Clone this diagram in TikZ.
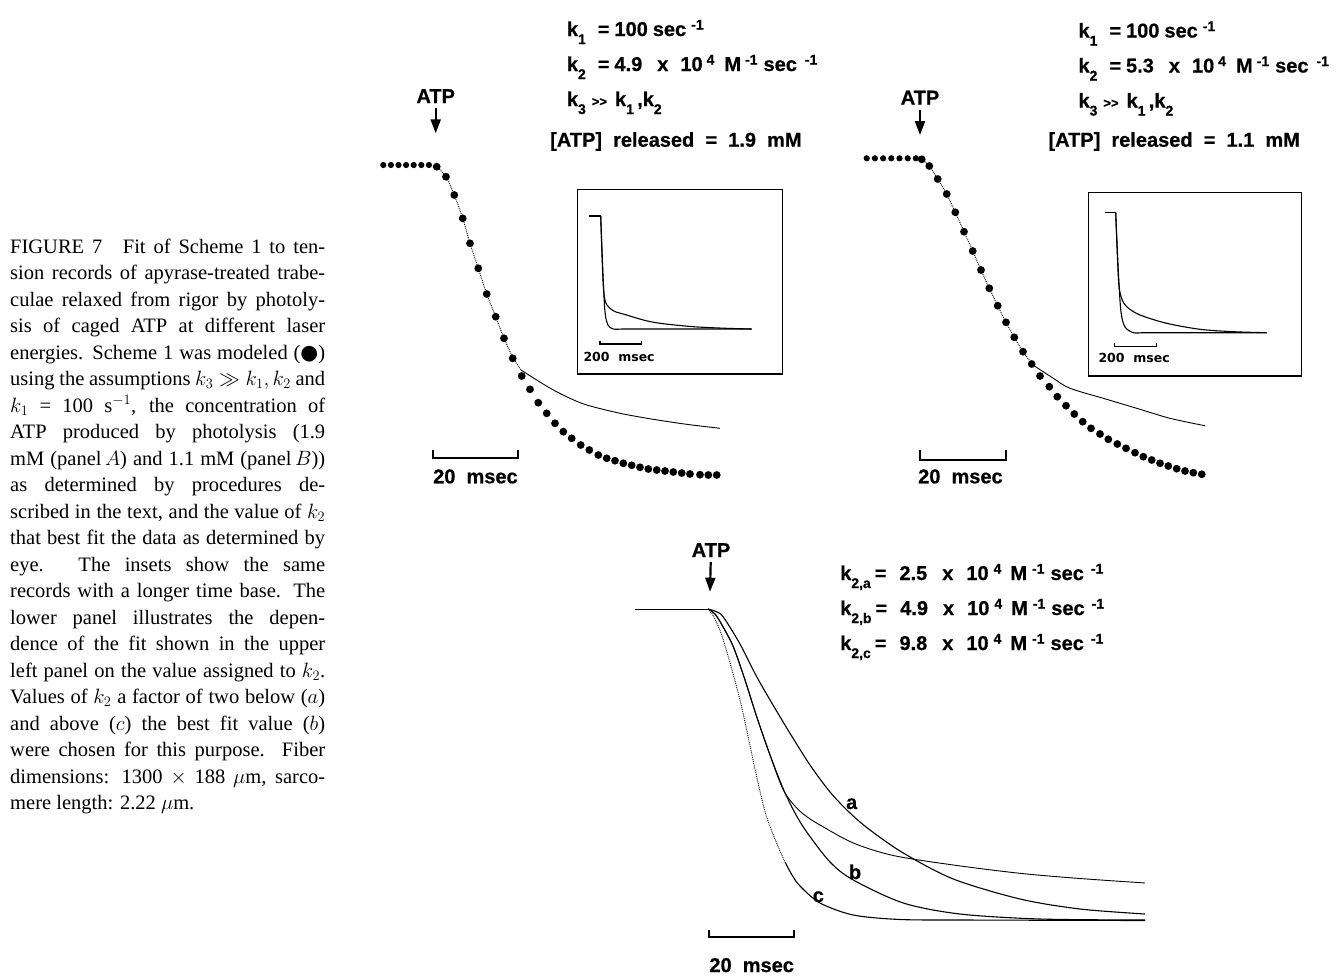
\documentclass[tikz,border=0pt]{standalone}
\usepackage{fontspec}
\setmainfont{Liberation Serif}
\newfontfamily\labfont{Liberation Sans}[BoldFeatures={FakeBold=0.6}]
\newfontfamily\widefont{DejaVu Sans}
\newfontfamily\symfont{DejaVu Sans}
\usepackage{tikz}
\usetikzlibrary{
    arrows.meta,
    positioning
}
% raised / lowered indices for the bold labels
\newcommand{\lsub}[1]{\raisebox{-8pt}{\fontsize{14}{14}\selectfont #1}}
\newcommand{\lsup}[1]{\raisebox{6.5pt}{\fontsize{14}{14}\selectfont #1}}
\newcommand{\ggsign}{{\fontsize{13}{13}\selectfont>>}}
\tikzset{
    lbl/.style={
        font=\labfont\bfseries\fontsize{20}{24}\selectfont,
        inner sep=0pt,
        anchor=base west
    },
    smalllbl/.style={
        font=\widefont\bfseries\fontsize{12.5}{15}\selectfont,
        inner sep=0pt,
        anchor=base west
    },
    capline/.style={
        font=\fontsize{20.5}{26.5}\selectfont,
        inner sep=0pt,
        anchor=base west
    },
    atparrow/.style={
        -{Triangle[width=10pt,length=14pt]},
        line width=2.2pt,
        shorten <=5pt
    },
    datatrace/.style={line width=0.9pt},
    rawtrace/.style={line width=0.9pt, densely dotted},
    fitcurve/.style={line width=1.1pt},
    scalebar/.style={line width=1.8pt},
    insetbox/.style={draw, line width=1.1pt}
}

\begin{document}
\begin{tikzpicture}[x=1pt, y=-1pt]
\useasboundingbox (0,0) rectangle (1344,975);

% caption
\foreach \txt [count=\i] in {
    {FIGURE 7\quad Fit of Scheme 1 to ten-},
    {sion records of apyrase-treated trabe-},
    {culae relaxed from rigor by photoly-},
    {sis of caged ATP at different laser},
    {energies. Scheme 1 was modeled ({\symfont ●})},
    {using the assumptions $k_3 \gg k_1, k_2$ and},
    {$k_1$ = 100 s$^{-1}$, the concentration of},
    {ATP produced by photolysis (1.9},
    {mM (panel\,$A$) and 1.1 mM (panel\,$B$))},
    {as determined by procedures de-},
    {scribed in the text, and the value of $k_2$},
    {that best fit the data as determined by},
    {eye. The insets show the same},
    {records with a longer time base. The},
    {lower panel illustrates the depen-},
    {dence of the fit shown in the upper},
    {left panel on the value assigned to $k_2$.},
    {Values of $k_2$ a factor of two below ($a$)},
    {and above ($c$) the best fit value ($b$)},
    {were chosen for this purpose. Fiber},
    {dimensions: 1300 $\times$ 188 $\mu$m, sarco-}}
    \node[capline] (cap\i) at (10, 226.8+26.5*\i) {\makebox[315pt][s]{\txt}};
\node[capline] (cap22) at (10, 809.8) {mere length: 2.22 $\mu$m.};

%% ---- panel A ----
\node[lbl, anchor=base] (atpA) at (435.7,103) {ATP};
\coordinate (atpAtip) at (435.7,133.3);
\draw[atparrow] (atpA) -- (atpAtip);

\node[lbl] (k1A) at (566.7,36) {k\lsub{1}\hspace{12pt}=\hspace{5pt}100\hspace{5pt}sec\hspace{5pt}\lsup{-1}};
\node[lbl] (k2A) at (566.7,71) {k\lsub{2}\hspace{12pt}=\hspace{5pt}4.9\hspace{15pt}x\hspace{12pt}10\hspace{4pt}\lsup{4}\hspace{10pt}M\hspace{4pt}\lsup{-1}\hspace{6pt}sec\hspace{8pt}\lsup{-1}};
\node[lbl] (k3A) at (566.7,106) {k\lsub{3}\hspace{6pt}\ggsign\hspace{8pt}k\lsub{1}\,,k\lsub{2}};
\node[lbl] (relA) at (550,146.7) {[ATP]\ \ released\ \ =\ \ 1.9\ \ mM};

% record
\draw[rawtrace] plot[smooth] coordinates {(436.7,166.7) (446,176.7) (454.3,195) (462.7,218.3) (470,243.3) (478.3,268.3) (486.7,294) (495.7,316.7) (504,338.3) (512.7,357) (521,370)};
\draw[datatrace] plot[smooth] coordinates {(521,370) (536.7,380) (553.3,390) (570,398.3) (586.7,405) (620,413.3) (653.3,419.3) (686.7,424.3) (720,428.3)};

% model points
\foreach \i in {0,...,6}
    \fill (383.3+7.6*\i,165) circle (3.1pt);
\foreach \p in {(436.7,166.7),(446,176.7),(454.3,195),(462.7,218.3),(470,243.3),(478.3,268.3),(486.7,294),(495.7,316.7),(504,338.3),(512.7,358.3),(521.7,376),(530,389.3),(538.3,402.7),(546.7,413.3),(555,423.3),(563.3,431.7),(571.7,438.3),(580.7,445),(589.3,450),(598.3,455),(606.7,458.3),(615,460.7),(623.3,463.3),(631.7,465.3),(640,467.3),(648.3,469),(656.7,470),(665,471),(673.3,472),(681.7,473),(690,474),(700,474.7),(708.3,475),(716.7,475)}
    \fill \p circle (3.9pt);

\draw[scalebar] (433.3,450) -- (433.3,458.3) -- (518.3,458.3) -- (518.3,450);
\node[lbl] (barA) at (433,483.3) {20\ \ msec};

% inset A
\draw[insetbox] (577.3,189.3) rectangle (782.7,374);
\draw[fitcurve] (589.3,216) -- (600.7,216);
\draw[fitcurve] plot[smooth] coordinates {(600.7,216) (603,275) (605,312) (608,325) (613.3,329) (622,329)} -- (751.7,329);
\draw[fitcurve] plot[smooth] coordinates {(600.7,216) (603,280) (605.5,302) (613.3,310.7) (626.7,315) (643.3,320) (660,323.3) (693.3,326.7) (726.7,328.3) (751.7,329)};
\draw[fitcurve] (600,340.7) -- (600,344) -- (641.7,344) -- (641.7,340.7);
\node[smalllbl] (insbarA) at (583.3,361.7) {200\ \ msec};

%% ---- panel B ----
\node[lbl, anchor=base] (atpB) at (920,104.5) {ATP};
\coordinate (atpBtip) at (920,135);
\draw[atparrow] (atpB) -- (atpBtip);

\node[lbl] (k1B) at (1078.3,37.5) {k\lsub{1}\hspace{12pt}=\hspace{5pt}100\hspace{5pt}sec\hspace{5pt}\lsup{-1}};
\node[lbl] (k2B) at (1078.3,72.5) {k\lsub{2}\hspace{12pt}=\hspace{5pt}5.3\hspace{15pt}x\hspace{12pt}10\hspace{4pt}\lsup{4}\hspace{10pt}M\hspace{4pt}\lsup{-1}\hspace{6pt}sec\hspace{8pt}\lsup{-1}};
\node[lbl] (k3B) at (1078.3,107.5) {k\lsub{3}\hspace{6pt}\ggsign\hspace{8pt}k\lsub{1}\,,k\lsub{2}};
\node[lbl] (relB) at (1048.3,146.7) {[ATP]\ \ released\ \ =\ \ 1.1\ \ mM};

% record
\draw[rawtrace] plot[smooth] coordinates {(921.7,159.3) (929.3,166) (937.7,179) (946.7,194) (955.3,212.3) (964,231.7) (972.7,251) (981,270) (989.3,288.3) (997.7,305.7) (1006,322.3) (1014.3,337.3) (1023,351.7) (1033,365)};
\draw[datatrace] plot[smooth] coordinates {(1033,365) (1053.3,378.3) (1070,388.3) (1103.3,398.3) (1136.7,408.3) (1170,418.3) (1205,425.7)};

% model points
\foreach \i in {0,...,6}
    \fill (866.7+8.2*\i,158.3) circle (3.1pt);
\foreach \p in {(921.7,159.3),(929.3,166),(937.7,179),(946.7,194),(955.3,212.3),(964,231.7),(972.7,251),(981,270),(989.3,288.3),(997.7,305.7),(1006,322.3),(1014.3,337.3),(1023,351.7),(1031.7,364),(1040,376),(1049.3,386.7),(1057.3,396.7),(1066,405.7),(1074.3,414),(1082.7,421.7),(1091,428.3),(1100,434),(1108.3,439.3),(1117.3,444),(1126,448.3),(1135,452.7),(1143.3,456.7),(1151.7,460),(1160,463.3),(1168.3,466),(1176.7,468.7),(1185,471),(1193.3,472.7),(1201.7,474.3)}
    \fill \p circle (3.9pt);

\draw[scalebar] (920,450) -- (920,460) -- (1005.7,460) -- (1005.7,450);
\node[lbl] (barB) at (918,483.3) {20\ \ msec};

% inset B
\draw[insetbox] (1088.3,192.7) rectangle (1301.7,376);
\draw[fitcurve] (1105,212.7) -- (1115.7,212.7);
\draw[fitcurve] plot[smooth] coordinates {(1115.7,212.7) (1118.5,275) (1121,312) (1125,327) (1133.3,332.7) (1142,332.7)} -- (1266.7,332.7);
\draw[fitcurve] plot[smooth] coordinates {(1115.7,212.7) (1118.5,280) (1121.5,298) (1127,307) (1140,315) (1166.7,323.3) (1200,329.3) (1233.3,331.7) (1266.7,332.7)};
\draw[fitcurve] (1114.3,343.3) -- (1114.3,346.7) -- (1156.7,346.7) -- (1156.7,343.3);
\node[smalllbl] (insbarB) at (1098.3,362.7) {200\ \ msec};

%% ---- lower panel: k2 dependence ----
\node[lbl, anchor=base] (atpC) at (711,557) {ATP};
\coordinate (atpCtip) at (710,591.7);
\draw[atparrow] (atpC) -- (atpCtip);

\node[lbl] (k2a) at (840,580) {k\lsub{2,a}\hspace{4pt}=\hspace{13pt}2.5\hspace{15pt}x\hspace{13pt}10\hspace{5pt}\lsup{4}\hspace{9pt}M\hspace{5pt}\lsup{-1}\hspace{6pt}sec\hspace{7pt}\lsup{-1}};
\node[lbl] (k2b) at (840,615) {k\lsub{2,b}\hspace{4pt}=\hspace{13pt}4.9\hspace{15pt}x\hspace{13pt}10\hspace{5pt}\lsup{4}\hspace{9pt}M\hspace{5pt}\lsup{-1}\hspace{6pt}sec\hspace{7pt}\lsup{-1}};
\node[lbl] (k2c) at (840,650) {k\lsub{2,c}\hspace{4pt}=\hspace{13pt}9.8\hspace{15pt}x\hspace{13pt}10\hspace{5pt}\lsup{4}\hspace{9pt}M\hspace{5pt}\lsup{-1}\hspace{6pt}sec\hspace{7pt}\lsup{-1}};

\draw[datatrace] (635,609) -- (708,609);
% record
\draw[datatrace] plot[smooth] coordinates {(708,609) (715,614) (722,625) (733.3,646.7) (745,680) (756.7,716.7) (770,755) (783.3,790) (796.7,808) (808,817.5) (820,825) (853.3,843) (893.3,855.5) (953.3,865) (1020,873.3) (1080,878.5) (1145,883)};
% curve a
\draw[fitcurve] plot[smooth] coordinates {(708,609) (716,611.5) (723.3,617) (740,644) (756.7,676.7) (773,705) (790,733.3) (810,765) (830,792) (850,813) (870,830) (903.3,853) (953.3,879) (1020,899) (1080,909) (1145,914)};
% curve b
\draw[fitcurve] plot[smooth] coordinates {(708,609) (715,614) (722,625) (733.3,646.7) (745,680) (756.7,716.7) (770,755) (783.3,789) (795,813) (806.7,832) (830,862) (853.3,880) (903.3,903) (960,914) (1040,919) (1145,920)};
% curve c
\draw[rawtrace] plot[smooth] coordinates {(708,609) (714,617) (723.3,640) (740,700) (756.7,776.7) (766,815) (776.7,843.3) (785,862)};
\draw[fitcurve] plot[smooth] coordinates {(785,862) (792,875) (800,886) (820,903) (853.3,915) (900,919.5) (960,920)} -- (1145,920.5);

\node[lbl, anchor=base] (lba) at (851.7,809) {a};
\node[lbl, anchor=base] (lbb) at (855,879) {b};
\node[lbl, anchor=base] (lbc) at (818.3,902) {c};

\draw[scalebar] (709.3,930) -- (709.3,937) -- (794,937) -- (794,930);
\node[lbl, anchor=base] (barC) at (751.7,972) {20\ \ msec};

\end{tikzpicture}
\end{document}
